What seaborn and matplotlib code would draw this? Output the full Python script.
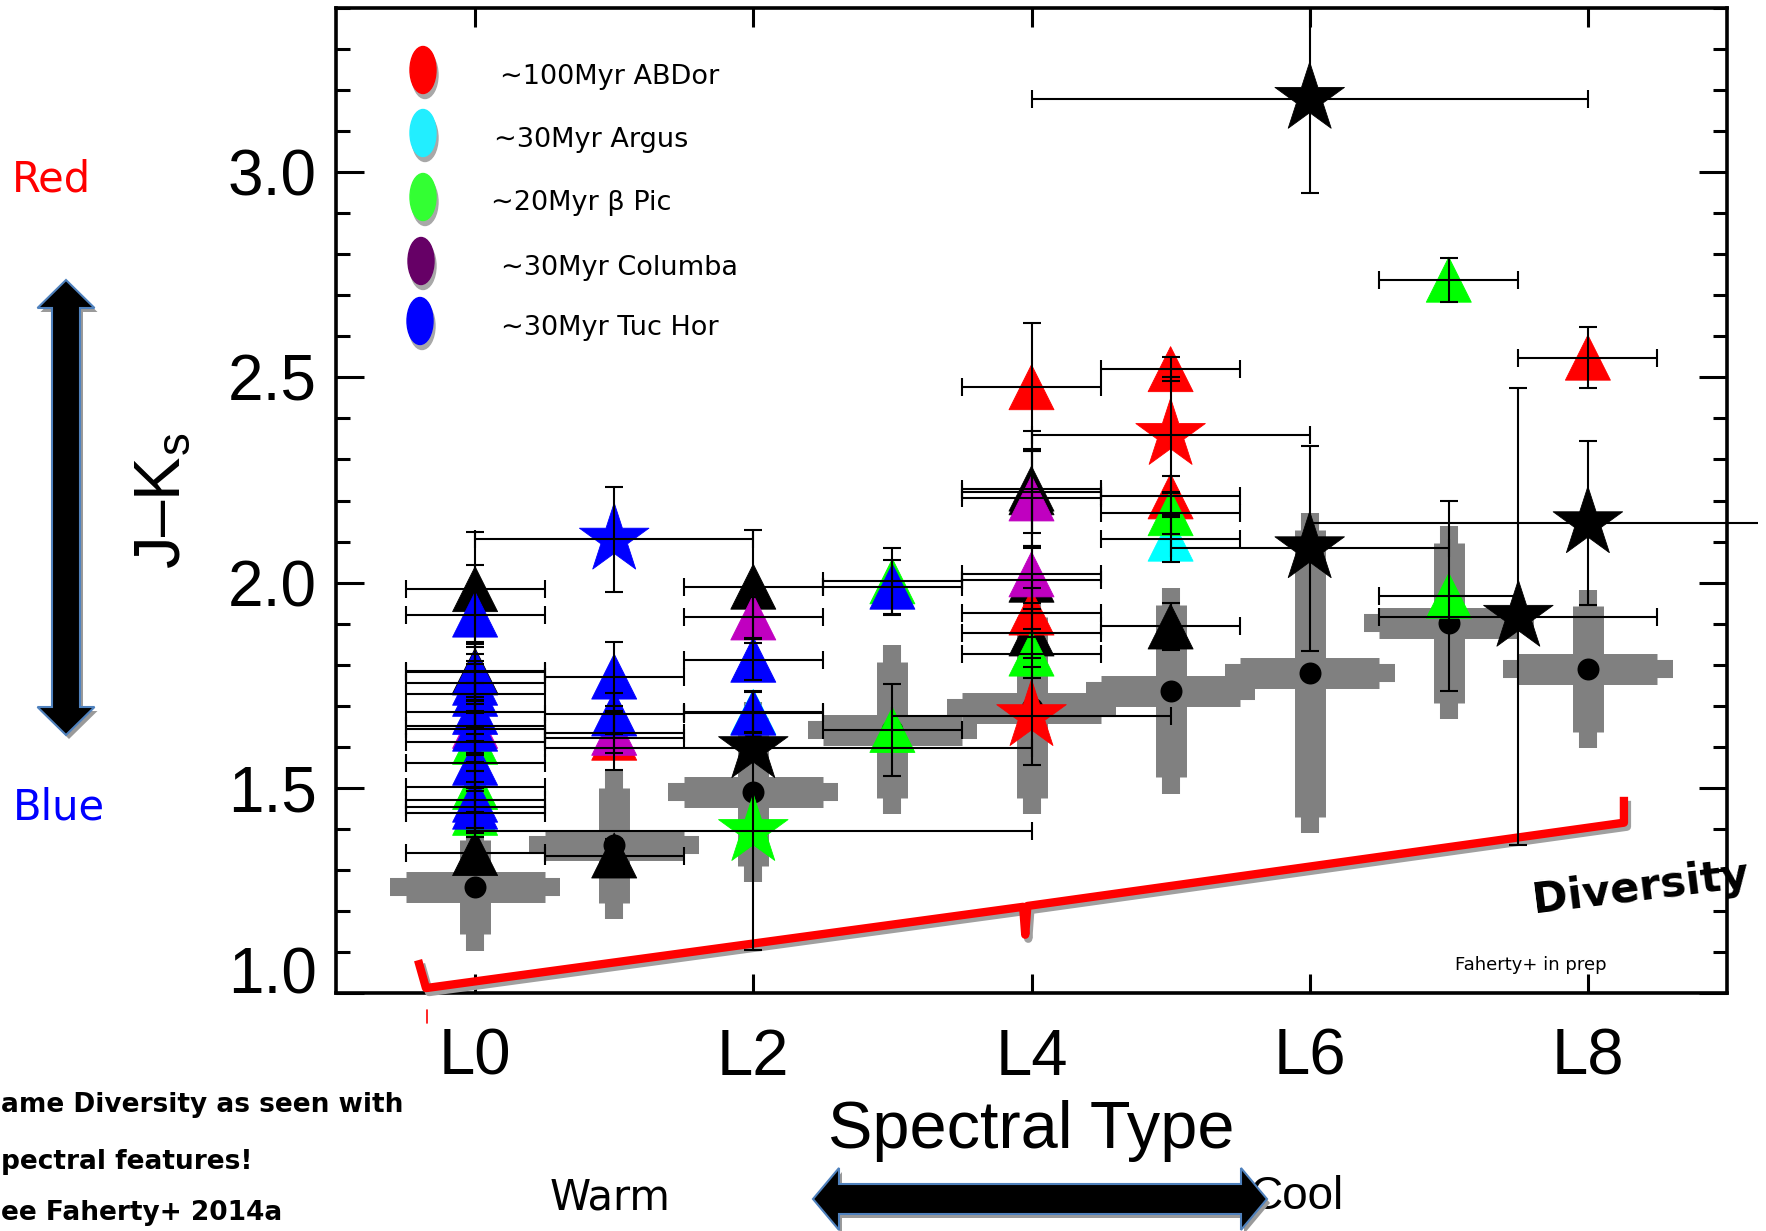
import numpy as np
import pandas as pd
import matplotlib
matplotlib.use("Agg")
import matplotlib.pyplot as plt
import matplotlib.transforms as mtransforms
from matplotlib.patches import Ellipse, Polygon
from matplotlib.lines import Line2D
from matplotlib.ticker import MultipleLocator
import seaborn as sns

# ---------------- data ----------------
spt_tick_pos = [0, 2, 4, 6, 8]
spt_tick_labels = ["L0", "L2", "L4", "L6", "L8"]
jk_tick_pos = [1.0, 1.5, 2.0, 2.5, 3.0]
jk_tick_labels = ["1.0", "1.5", "2.0", "2.5", "3.0"]

group_names = ["Field", "AB Dor", "Argus", "beta Pic", "Columba", "Tuc Hor"]
group_colors = ["#000000", "#FF0000", "#00FFFF", "#00FF00", "#C000C0", "#0000FF"]

legend_labels = ["\u223c100Myr ABDor", "\u223c30Myr Argus", "\u223c20Myr \u03b2 Pic",
                 "\u223c30Myr Columba", "\u223c30Myr Tuc Hor"]
legend_colors = ["#FF0000", "#22EEFF", "#33FF33", "#660066", "#0000FF"]

# field-dwarf average J-Ks per spectral type (gray crosses)
field_spt = [0, 1, 2, 3, 4, 5, 6, 7, 8]
field_jk = [1.258, 1.360, 1.490, 1.641, 1.695, 1.736, 1.779, 1.902, 1.789]
field_spt_err = [0.5, 0.5, 0.5, 0.5, 0.5, 0.5, 0.5, 0.5, 0.5]
field_jk_err = [0.115, 0.14, 0.18, 0.166, 0.22, 0.21, 0.35, 0.195, 0.153]

# young moving-group members (triangles)
tri_spt = [0, 0, 0, 0, 0, 0, 0, 0, 0, 0, 0, 0, 0, 0, 0, 0,
           1, 1, 1, 1, 1,
           2, 2, 2, 2, 2,
           3, 3, 3,
           4, 4, 4, 4, 4, 4, 4, 4, 4,
           5, 5, 5, 5, 5,
           7, 7,
           8]
tri_jk = [1.984, 1.785, 1.341, 1.612, 1.502, 1.439, 1.651, 1.922, 1.781, 1.756, 1.729, 1.685, 1.644, 1.561, 1.471, 1.454,
          1.335, 1.622, 1.634, 1.771, 1.681,
          1.990, 1.685, 1.915, 1.812, 1.683,
          2.003, 1.641, 1.990,
          2.229, 2.220, 2.007, 1.876, 2.476, 1.927, 1.827, 2.205, 2.020,
          1.893, 2.520, 2.210, 2.107, 2.169,
          2.738, 1.968,
          2.548]
tri_spt_err = [0.5, 0.5, 0.5, 0.5, 0.5, 0.5, 0.5, 0.5, 0.5, 0.5, 0.5, 0.5, 0.5, 0.5, 0.5, 0.5,
               0.5, 0.5, 0.5, 0.5, 0.5,
               0.5, 0.5, 0.5, 0.5, 0.5,
               0.5, 0.5, 0.5,
               0.5, 0.5, 0.5, 0.5, 0.5, 0.5, 0.5, 0.5, 0.5,
               0.5, 0.5, 0.5, 0.5, 0.5,
               0.5, 0.5,
               0.5]
tri_jk_err = [0.14, 0.07, 0.05, 0.07, 0.06, 0.06, 0.07, 0.12, 0.07, 0.07, 0.08, 0.07, 0.06, 0.07, 0.07, 0.06,
              0.04, 0.078, 0.05, 0.085, 0.05,
              0.137, 0.05, 0.05, 0.05, 0.05,
              0.082, 0.112, 0.066,
              0.14, 0.10, 0.08, 0.06, 0.156, 0.06, 0.06, 0.12, 0.07,
              0.058, 0.03, 0.05, 0.057, 0.05,
              0.054, 0.232,
              0.074]
tri_group = ["Field", "Field", "Field", "beta Pic", "beta Pic", "beta Pic", "Columba", "Tuc Hor", "Tuc Hor",
             "Tuc Hor", "Tuc Hor", "Tuc Hor", "Tuc Hor", "Tuc Hor", "Tuc Hor", "Tuc Hor",
             "Field", "AB Dor", "Columba", "Tuc Hor", "Tuc Hor",
             "Field", "Argus", "Columba", "Tuc Hor", "Tuc Hor",
             "beta Pic", "beta Pic", "Tuc Hor",
             "Field", "Field", "Field", "Field", "AB Dor", "AB Dor", "beta Pic", "Columba", "Columba",
             "Field", "AB Dor", "AB Dor", "Argus", "beta Pic",
             "beta Pic", "beta Pic",
             "AB Dor"]

# other objects (stars)
star_spt = [1, 2, 2, 4, 5, 6, 6, 7.5, 8]
star_jk = [2.105, 1.597, 1.395, 1.675, 2.360, 3.179, 2.084, 1.917, 2.145]
star_spt_err_lo = [1.0, 1.5, 2.0, 1.0, 1.0, 2.0, 1.0, 1.0, 2.0]
star_spt_err_hi = [1.0, 2.0, 2.0, 1.0, 1.0, 2.0, 1.0, 1.0, 1.22]
star_jk_err = [0.128, 0.0, 0.29, 0.12, 0.14, 0.23, 0.25, 0.557, 0.20]
star_group = ["Tuc Hor", "Field", "beta Pic", "AB Dor", "AB Dor", "Field", "Field", "Field", "Field"]

# "Diversity" bracket (data coordinates)
bracket_spt = [-0.41, -0.353, 3.94, 3.955, 3.97, 8.259, 8.259]
bracket_jk = [1.080, 1.012, 1.210, 1.142, 1.212, 1.415, 1.478]

# ---------------- figure ----------------
sns.set_style("ticks")
plt.rcParams["font.family"] = ["DejaVu Sans"]
plt.rcParams["text.color"] = "black"
plt.rcParams["axes.labelcolor"] = "black"
plt.rcParams["xtick.color"] = "black"
plt.rcParams["ytick.color"] = "black"
plt.rcParams["xtick.labelcolor"] = "black"
plt.rcParams["ytick.labelcolor"] = "black"
plt.rcParams["mathtext.fontset"] = "custom"
plt.rcParams["mathtext.rm"] = "Liberation Sans"
plt.rcParams["mathtext.it"] = "Liberation Sans:italic"
plt.rcParams["mathtext.default"] = "regular"

W, H = 1766, 1231
fig = plt.figure(figsize=(W / 100, H / 100), dpi=100)
PX = mtransforms.Affine2D().scale(1.0 / W, 1.0 / H) + fig.transFigure
ax = fig.add_axes([336 / W, 1 - 993 / H, (1727 - 336) / W, (993 - 8) / H])
ax.set_facecolor("white")

palette = dict(zip(group_names, group_colors))

# gray crosses (field averages): thin outer layer + thick inner layer
for ext_x, ext_y, lw, z in [(0.11, 0.04, 13.0, 1.0), (0.0, 0.0, 22.3, 1.1)]:
    eb = ax.errorbar(field_spt, field_jk,
                     xerr=np.array(field_spt_err) + ext_x,
                     yerr=np.array(field_jk_err) + ext_y,
                     fmt="none", ecolor="#808080", elinewidth=lw, capsize=0, zorder=z)
    for c in eb[2]:
        c.set_capstyle("butt")

sns.scatterplot(x=field_spt, y=field_jk, color="black", marker="o", s=250,
                linewidth=0, legend=False, zorder=2.5, ax=ax)

stars = pd.DataFrame({"spt": star_spt, "jk": star_jk, "group": star_group})
sns.scatterplot(data=stars, x="spt", y="jk", hue="group", palette=palette,
                marker="*", s=2770, edgecolor="face", linewidth=0.6,
                legend=False, zorder=2.8, ax=ax)

tri = pd.DataFrame({"spt": tri_spt, "jk": tri_jk, "group": tri_group})
tri["group"] = pd.Categorical(tri["group"], categories=group_names, ordered=True)
tri = tri.sort_values("group", kind="stable")
sns.scatterplot(data=tri, x="spt", y="jk", hue="group", hue_order=group_names, palette=palette,
                marker="^", s=1050, edgecolor="face", linewidth=0.6,
                legend=False, zorder=3, ax=ax)

# black error bars on top
ebk = dict(fmt="none", ecolor="black", elinewidth=1.5, capsize=6.8, capthick=1.5, zorder=4)
ax.errorbar(tri_spt, tri_jk, xerr=tri_spt_err, **ebk)
ax.errorbar(tri_spt, tri_jk, yerr=tri_jk_err, **ebk)
sx = np.array(star_spt); sy = np.array(star_jk)
lo = np.array(star_spt_err_lo); hi = np.array(star_spt_err_hi); se = np.array(star_jk_err)
ax.errorbar(sx[:-1], sy[:-1], xerr=[lo[:-1], hi[:-1]], **ebk)
eb_last = ax.errorbar(sx[-1:], sy[-1:], xerr=[lo[-1:], hi[-1:]], fmt="none", ecolor="black",
                      elinewidth=1.5, capsize=0, zorder=4)
for c in eb_last[2]:
    c.set_clip_on(False)
m = se > 0
ax.errorbar(sx[m], sy[m], yerr=se[m], **ebk)

# bracket with shadow
shadow_tr = mtransforms.offset_copy(ax.transData, fig=fig, x=3, y=-4, units="dots")
ax.plot(bracket_spt, bracket_jk, color="#A0A0A0", lw=6, solid_joinstyle="round",
        solid_capstyle="butt", transform=shadow_tr, clip_on=False, zorder=3.4)
ax.plot(bracket_spt, bracket_jk, color="#FF0000", lw=6, solid_joinstyle="round",
        solid_capstyle="butt", clip_on=False, zorder=3.5)
fig.add_artist(Line2D([427, 427], [H - 1010, H - 1023], transform=PX, color="#FF0000", lw=1.2))

# axes styling
ax.set_xlim(-1, 9)
ax.set_ylim(1.0, 3.4)
ax.set_xticks(spt_tick_pos)
ax.set_xticklabels(spt_tick_labels, fontsize=47, family="Liberation Sans", color="black")
ax.set_yticks(jk_tick_pos)
ax.set_yticklabels(jk_tick_labels, fontsize=46, family="Liberation Sans", color="black")
ax.yaxis.set_minor_locator(MultipleLocator(0.1))
ax.tick_params(which="both", direction="in", top=True, right=True, width=2.2, color="black")
ax.tick_params(axis="x", which="major", length=14, pad=25)
ax.tick_params(axis="y", which="major", length=20, pad=14)
ax.tick_params(axis="y", which="minor", length=10)
for sp in ax.spines.values():
    sp.set_linewidth(2.6)
    sp.set_color("black")
ax.set_xlabel("")
ax.set_ylabel("")
ax.yaxis.get_major_ticks()[0].label1.set_va("baseline")

# axis titles
fig.text(163 / W, 1 - 501 / H, "J\u2013K$_s$", rotation=90, ha="center", va="center",
         fontsize=47, family="Liberation Sans")
fig.text(1031 / W, 1 - 1131 / H, "Spectral Type", ha="center", va="center",
         fontsize=48, family="Liberation Sans")

# legend (ellipses + labels)
ell_xy = [(423, 70), (423, 133), (423, 197), (421, 261), (420, 321)]
lab_xy = [(500, 77), (494, 140), (491, 203), (501, 268), (501, 328)]
for (ex, ey), (lx, ly), lab, col in zip(ell_xy, lab_xy, legend_labels, legend_colors):
    fig.add_artist(Ellipse((ex + 2, H - ey - 5), 26, 47, transform=PX, color="#A8A8A8", zorder=5))
    fig.add_artist(Ellipse((ex, H - ey), 26, 47, transform=PX, color=col, zorder=6))
    fig.text(lx / W, 1 - ly / H, lab, ha="left", va="center", fontsize=19.5, family="DejaVu Sans")

# annotations
fig.text(1641 / W, 1 - 888 / H, "Diversity", rotation=7, ha="center", va="center",
         fontsize=31, fontweight="bold", family="DejaVu Sans", zorder=7)
fig.text(1531 / W, 1 - 965 / H, "Faherty+ in prep", ha="center", va="center",
         fontsize=13, family="DejaVu Sans")
fig.text(51 / W, 1 - 180 / H, "Red", color="#FF0000", ha="center", va="center",
         fontsize=30, family="DejaVu Sans")
fig.text(59 / W, 1 - 808 / H, "Blue", color="#0000FF", ha="center", va="center",
         fontsize=30, family="DejaVu Sans")
fig.text(610 / W, 1 - 1197 / H, "Warm", ha="center", va="center", fontsize=30, family="DejaVu Sans")
fig.text(1297 / W, 1 - 1197 / H, "Cool", ha="center", va="center", fontsize=33,
         family="Liberation Sans", zorder=0.5)
for txt, xl, yc in [("ame Diversity as seen with", 1, 1105),
                    ("pectral features!", 1, 1162),
                    ("ee Faherty+ 2014a", 1, 1213)]:
    fig.text(xl / W, 1 - yc / H, txt, ha="left", va="center", fontsize=19,
             fontweight="bold", family="DejaVu Sans")


def v_arrow(xc, yt, yb, shw, hhw, hl):
    pts = [(xc, yt), (xc + hhw, yt + hl), (xc + shw, yt + hl), (xc + shw, yb - hl),
           (xc + hhw, yb - hl), (xc, yb), (xc - hhw, yb - hl), (xc - shw, yb - hl),
           (xc - shw, yt + hl), (xc - hhw, yt + hl)]
    return [(x, H - y) for x, y in pts]


def h_arrow(yc, xl, xr, shw, hhw, hl):
    pts = [(xl, yc), (xl + hl, yc - hhw), (xl + hl, yc - shw), (xr - hl, yc - shw),
           (xr - hl, yc - hhw), (xr, yc), (xr - hl, yc + hhw), (xr - hl, yc + shw),
           (xl + hl, yc + shw), (xl + hl, yc + hhw)]
    return [(x, H - y) for x, y in pts]


for pts_fn in [lambda dx, dy: v_arrow(66 + dx, 280 + dy, 735 + dy, 14, 28.5, 28),
               lambda dx, dy: h_arrow(1199 + dy, 813 + dx, 1267 + dx, 15, 31, 26)]:
    fig.add_artist(Polygon(pts_fn(3, 4), closed=True, transform=PX, facecolor="#9A9A9A",
                           edgecolor="none", zorder=1.5))
    fig.add_artist(Polygon(pts_fn(0, 0), closed=True, transform=PX, facecolor="black",
                           edgecolor="#4F81BD", lw=1.5, zorder=2))

fig.savefig("out.png", dpi=100)
